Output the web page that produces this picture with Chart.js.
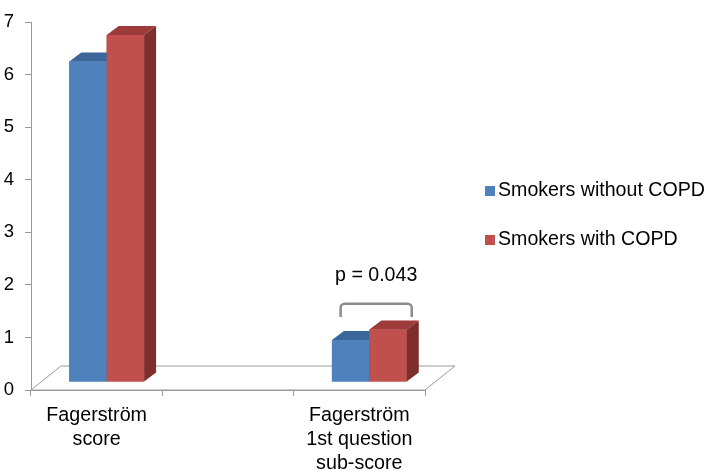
<!DOCTYPE html>
<html>
<head>
<meta charset="utf-8">
<script src="https://cdn.jsdelivr.net/npm/chart.js@4"></script>
<style>
  body { margin: 0; background: #fff; }
</style>
</head>
<body>
<canvas id="chart" width="709" height="470"></canvas>
<script>
const categories = [['Fagerström', 'score'], '', ['Fagerström', '1st question', 'sub-score']];
const withoutCopd = [6.1, null, 0.8];
const withCopd = [6.6, null, 1.0];
const seriesNames = ['Smokers without COPD', 'Smokers with COPD'];
const pLabel = 'p = 0.043';

const FONT = '"Liberation Sans", Arial, sans-serif';
const AXIS_GREY = '#9a9a9a';

// floor depth and where the bars sit inside it
const FLOOR_DX = 30, FLOOR_DY = -24;
const BAR_OFF_X = 10, BAR_OFF_Y = -8;
const BAR_DX = 12, BAR_DY = -9;

const faces = [
  { front: '#4F81BD', top: '#3B6699', side: '#365E8E' },
  { front: '#C0504D', top: '#9C3B39', side: '#7E2F2D' }
];

const floorPlugin = {
  id: 'floor',
  beforeDatasetsDraw(chart) {
    const { ctx, chartArea: a } = chart;
    ctx.save();
    ctx.beginPath();
    ctx.moveTo(a.left, a.bottom);
    ctx.lineTo(a.right, a.bottom);
    ctx.lineTo(a.right + FLOOR_DX, a.bottom + FLOOR_DY);
    ctx.lineTo(a.left + FLOOR_DX, a.bottom + FLOOR_DY);
    ctx.closePath();
    ctx.fillStyle = '#fff';
    ctx.fill();
    ctx.strokeStyle = AXIS_GREY;
    ctx.lineWidth = 1;
    ctx.stroke();
    ctx.restore();
    // bars stand a third of the way into the floor
    ctx.save();
    ctx.translate(BAR_OFF_X, BAR_OFF_Y);
  },
  afterDatasetsDraw(chart) {
    const ctx = chart.ctx;
    chart.data.datasets.forEach((ds, i) => {
      const f = faces[i];
      chart.getDatasetMeta(i).data.forEach((bar, j) => {
        if (ds.data[j] == null) return;
        const { x, y, base, width } = bar.getProps(['x', 'y', 'base', 'width'], true);
        const l = x - width / 2, r = x + width / 2;
        ctx.fillStyle = f.front;
        ctx.fillRect(l, y, width, base - y);
        ctx.fillStyle = f.top;
        ctx.beginPath();
        ctx.moveTo(l, y);
        ctx.lineTo(r, y);
        ctx.lineTo(r + BAR_DX, y + BAR_DY);
        ctx.lineTo(l + BAR_DX, y + BAR_DY);
        ctx.closePath();
        ctx.fill();
        ctx.fillStyle = f.side;
        ctx.beginPath();
        ctx.moveTo(r, y);
        ctx.lineTo(r + BAR_DX, y + BAR_DY);
        ctx.lineTo(r + BAR_DX, base + BAR_DY);
        ctx.lineTo(r, base);
        ctx.closePath();
        ctx.fill();
      });
    });
    ctx.restore();
  }
};

const extrasPlugin = {
  id: 'extras',
  afterDraw(chart) {
    const { ctx, scales: { y } } = chart;
    const blue = chart.getDatasetMeta(0).data[2];
    const red = chart.getDatasetMeta(1).data[2];
    const left = blue.x;
    const right = red.x + red.width * 0.9;
    const yTop = y.getPixelForValue(1.64);
    const yBot = y.getPixelForValue(1.39);

    ctx.save();
    ctx.strokeStyle = '#8c8c8c';
    ctx.lineWidth = 2.5;
    ctx.beginPath();
    ctx.moveTo(left, yBot);
    ctx.arcTo(left, yTop, right, yTop, 4);
    ctx.arcTo(right, yTop, right, yBot, 4);
    ctx.lineTo(right, yBot);
    ctx.stroke();

    ctx.fillStyle = '#000';
    ctx.font = '19.6px ' + FONT;
    ctx.textAlign = 'center';
    ctx.textBaseline = 'middle';
    ctx.fillText(pLabel, (left + right) / 2, y.getPixelForValue(2.17));

    // legend
    ctx.textAlign = 'left';
    chart.data.datasets.forEach((ds, i) => {
      const cy = 191 + i * 49;
      ctx.fillStyle = ds.backgroundColor;
      ctx.fillRect(485, cy - 5, 10, 10);
      ctx.fillStyle = '#000';
      ctx.fillText(ds.label, 498, cy);
    });
    ctx.restore();
  }
};

new Chart(document.getElementById('chart'), {
  type: 'bar',
  data: {
    labels: categories,
    datasets: [
      { label: seriesNames[0], data: withoutCopd, backgroundColor: faces[0].front },
      { label: seriesNames[1], data: withCopd, backgroundColor: faces[1].front }
    ]
  },
  options: {
    responsive: false,
    devicePixelRatio: 1,
    animation: false,
    layout: { padding: { top: 10, right: 284, left: 0, bottom: 0 } },
    categoryPercentage: 0.57,
    barPercentage: 1,
    plugins: {
      legend: { display: false },
      tooltip: { enabled: false }
    },
    scales: {
      x: {
        grid: { offset: true, drawOnChartArea: false, tickLength: 6, color: AXIS_GREY },
        border: { color: AXIS_GREY },
        ticks: {
          color: '#000', padding: 8, maxRotation: 0, autoSkip: false,
          font: { family: FONT, size: 19.7, lineHeight: 1.2 }
        },
        afterFit(scale) { scale.height = 80; }
      },
      y: {
        min: 0,
        max: 7,
        grid: { drawOnChartArea: false, tickLength: 6, color: AXIS_GREY },
        border: { color: AXIS_GREY },
        ticks: {
          stepSize: 1, color: '#000', padding: 11,
          font: { family: FONT, size: 18.5 }
        },
        afterFit(scale) { scale.width = 31; }
      }
    }
  },
  plugins: [floorPlugin, extrasPlugin]
});
</script>
</body>
</html>
